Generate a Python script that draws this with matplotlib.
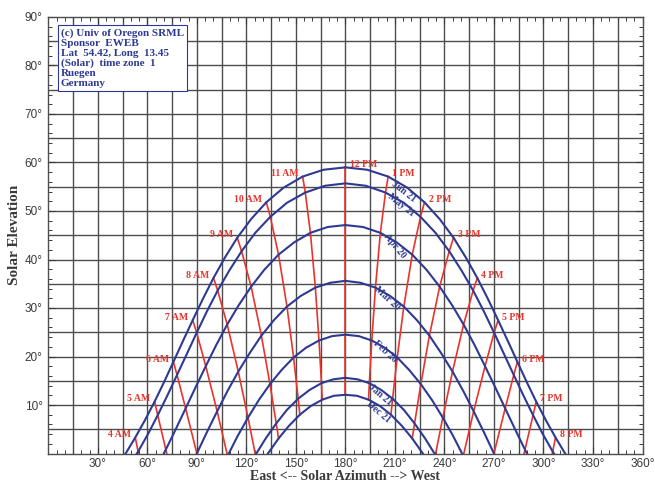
import numpy as np
import matplotlib
matplotlib.use("Agg")
import matplotlib.pyplot as plt
from matplotlib.ticker import MultipleLocator

nan = np.nan

# solar time of each tabulated point, every half hour from 3:00 to 21:00
solar_hour = list(np.arange(3, 21.5, 0.5))

dates = ["Jun 21", "May 21", "Apr 20", "Mar 20", "Feb 20", "Jan 21", "Dec 21"]

# azimuth / elevation for each date
az_jun = [40.5, 46.7, 52.7, 58.6, 64.4, 70.1, 75.8, 81.6, 87.5, 93.7, 100.1, 107.0, 114.5,
          122.8, 132.1, 142.5, 154.1, 166.7, 180.0, 193.3, 205.9, 217.5, 227.9, 237.2,
          245.5, 253.0, 259.9, 266.3, 272.5, 278.4, 284.2, 289.9, 295.6, 301.4, 307.3,
          313.3, 319.5]
el_jun = [-3.1, -0.1, 3.3, 6.9, 10.7, 14.7, 18.9, 23.2, 27.5, 31.9, 36.2, 40.4, 44.5,
          48.3, 51.8, 54.8, 57.1, 58.5, 59.0, 58.5, 57.1, 54.8, 51.8, 48.3, 44.5, 40.4,
          36.2, 31.9, 27.5, 23.2, 18.9, 14.7, 10.7, 6.9, 3.3, -0.1, -3.1]

az_may = [41.9, 48.2, 54.4, 60.4, 66.3, 72.2, 78.0, 83.9, 89.9, 96.1, 102.6, 109.6, 117.1,
          125.4, 134.5, 144.6, 155.7, 167.6, 180.0, 192.4, 204.3, 215.4, 225.5, 234.6,
          242.9, 250.4, 257.4, 263.9, 270.1, 276.1, 282.0, 287.8, 293.7, 299.6, 305.6,
          311.8, 318.1]
el_may = [-6.1, -3.0, 0.4, 4.0, 7.9, 12.0, 16.2, 20.5, 24.9, 29.3, 33.6, 37.7, 41.7,
          45.5, 48.8, 51.7, 53.8, 55.2, 55.7, 55.2, 53.8, 51.7, 48.8, 45.5, 41.7, 37.7,
          33.6, 29.3, 24.9, 20.5, 16.2, 12.0, 7.9, 4.0, 0.4, -3.0, -6.1]

az_apr = [nan, nan, 58.8, 65.1, 71.2, 77.2, 83.2, 89.3, 95.4, 101.8, 108.4, 115.4, 122.9,
          130.9, 139.5, 148.8, 158.8, 169.3, 180.0, 190.7, 201.2, 211.2, 220.5, 229.1,
          237.1, 244.6, 251.6, 258.2, 264.6, 270.7, 276.8, 282.8, 288.8, 294.9, 301.2,
          nan, nan]
el_apr = [nan, nan, -7.1, -3.2, 0.8, 5.0, 9.3, 13.7, 18.0, 22.4, 26.6, 30.6, 34.4,
          37.9, 41.0, 43.5, 45.5, 46.7, 47.1, 46.7, 45.5, 43.5, 41.0, 37.9, 34.4, 30.6,
          26.6, 22.4, 18.0, 13.7, 9.3, 5.0, 0.8, -3.2, -7.1, nan, nan]

az_mar = [nan, nan, nan, nan, 77.7, 83.9, 90.0, 96.1, 102.3, 108.6, 115.1, 122.0, 129.1,
          136.7, 144.6, 153.0, 161.8, 170.8, 180.0, 189.2, 198.2, 207.0, 215.4, 223.3,
          230.9, 238.0, 244.9, 251.4, 257.7, 263.9, 270.0, 276.1, 282.3, nan, nan, nan, nan]
el_mar = [nan, nan, nan, nan, -8.7, -4.4, 0.0, 4.4, 8.7, 12.9, 16.9, 20.7, 24.3,
          27.5, 30.3, 32.5, 34.2, 35.2, 35.6, 35.2, 34.2, 32.5, 30.3, 27.5, 24.3, 20.7,
          16.9, 12.9, 8.7, 4.4, 0.0, -4.4, -8.7, nan, nan, nan, nan]

az_feb = [nan, nan, nan, nan, nan, nan, 96.5, 102.5, 108.6, 114.7, 121.0, 127.5, 134.3,
          141.3, 148.6, 156.1, 164.0, 171.9, 180.0, 188.1, 196.0, 203.9, 211.4, 218.7,
          225.7, 232.5, 239.0, 245.3, 251.4, 257.5, 263.5, nan, nan, nan, nan, nan, nan]
el_feb = [nan, nan, nan, nan, nan, nan, -9.0, -4.7, -0.5, 3.6, 7.4, 11.0, 14.3,
          17.2, 19.8, 21.8, 23.3, 24.2, 24.5, 24.2, 23.3, 21.8, 19.8, 17.2, 14.3, 11.0,
          7.4, 3.6, -0.5, -4.7, -9.0, nan, nan, nan, nan, nan, nan]

az_jan = [nan, nan, nan, nan, nan, nan, nan, nan, 113.6, 119.5, 125.5, 131.7, 138.1,
          144.6, 151.4, 158.3, 165.5, 172.7, 180.0, 187.3, 194.5, 201.7, 208.6, 215.4,
          221.9, 228.3, 234.5, 240.5, 246.4, nan, nan, nan, nan, nan, nan, nan, nan]
el_jan = [nan, nan, nan, nan, nan, nan, nan, nan, -7.9, -4.0, -0.3, 3.1, 6.2,
          9.0, 11.3, 13.1, 14.5, 15.3, 15.6, 15.3, 14.5, 13.1, 11.3, 9.0, 6.2, 3.1,
          -0.3, -4.0, -7.9, nan, nan, nan, nan, nan, nan, nan, nan]

az_dec = [nan, nan, nan, nan, nan, nan, nan, nan, 115.6, 121.4, 127.3, 133.3, 139.5,
          145.8, 152.4, 159.1, 166.0, 173.0, 180.0, 187.0, 194.0, 200.9, 207.6, 214.2,
          220.5, 226.7, 232.7, 238.6, 244.4, nan, nan, nan, nan, nan, nan, nan, nan]
el_dec = [nan, nan, nan, nan, nan, nan, nan, nan, -10.7, -6.9, -3.3, 0.1, 3.1,
          5.7, 8.0, 9.8, 11.1, 11.9, 12.1, 11.9, 11.1, 9.8, 8.0, 5.7, 3.1, 0.1,
          -3.3, -6.9, -10.7, nan, nan, nan, nan, nan, nan, nan, nan]

hour_names = ["4 AM", "5 AM", "6 AM", "7 AM", "8 AM", "9 AM", "10 AM", "11 AM", "12 PM",
              "1 PM", "2 PM", "3 PM", "4 PM", "5 PM", "6 PM", "7 PM", "8 PM"]
hour_values = [4, 5, 6, 7, 8, 9, 10, 11, 12, 13, 14, 15, 16, 17, 18, 19, 20]

# date label positions (azimuth, elevation, rotation)
date_lab_az = [215.5, 214.0, 210.0, 205.5, 204.0, 201.0, 200.0]
date_lab_el = [54.0, 51.3, 42.7, 32.0, 21.0, 12.1, 8.6]
date_lab_rot = [-38, -38, -50, -42, -42, -40, -40]

info_lines = ["(c) Univ of Oregon SRML", "Sponsor  EWEB", "Lat  54.42, Long  13.45",
              "(Solar)  time zone  1", "Ruegen", "Germany"]

BLUE = "#2e3a92"
RED = "#e8342c"
GRID = "#4d4d4d"
TXT = "#3a3a3a"

all_az = [az_jun, az_may, az_apr, az_mar, az_feb, az_jan, az_dec]
all_el = [el_jun, el_may, el_apr, el_mar, el_feb, el_jan, el_dec]

fig = plt.figure(figsize=(6.55, 4.82), dpi=100)
ax = fig.add_axes([48.3 / 655, 1 - 453.5 / 482, (642.5 - 48.3) / 655, (453.5 - 17) / 482])

ax.set_xlim(0, 360)
ax.set_ylim(0, 90)

# grid
for x in np.arange(15, 360, 15):
    ax.axvline(x, color=GRID, lw=1.0, zorder=1)
for y in np.arange(5, 90, 5):
    ax.axhline(y, color=GRID, lw=1.0, zorder=1)

# hour lines
for h in hour_values:
    i = solar_hour.index(h)
    xs = [a[i] for a in all_az if not np.isnan(a[i])]
    ys = [e[i] for e in all_el if not np.isnan(e[i])]
    ax.plot(xs, ys, color=RED, lw=1.2, zorder=2)

# date curves
for a, e in zip(all_az, all_el):
    ax.plot(a, e, color=BLUE, lw=1.5, zorder=3)

# hour labels next to the June 21 points
for name, h in zip(hour_names, hour_values):
    i = solar_hour.index(h)
    if h < 12:
        ax.annotate(name, (az_jun[i], el_jun[i]), xytext=(-3, 2), textcoords="offset points",
                    ha="right", va="center", color=RED, fontsize=7, fontweight="bold",
                    family="Liberation Serif", zorder=5)
    else:
        ax.annotate(name, (az_jun[i], el_jun[i]), xytext=(3, 2), textcoords="offset points",
                    ha="left", va="center", color=RED, fontsize=7, fontweight="bold",
                    family="Liberation Serif", zorder=5)

for name, x, y, r in zip(dates, date_lab_az, date_lab_el, date_lab_rot):
    ax.text(x, y, name, rotation=r, ha="center", va="center", color=BLUE, fontsize=7,
            fontweight="bold", family="Liberation Serif", zorder=5,
            rotation_mode="anchor")

ax.text(0.021, 0.975, "\n".join(info_lines), transform=ax.transAxes, ha="left", va="top",
        color=BLUE, fontsize=8, fontweight="bold", family="Liberation Serif",
        linespacing=1.15, zorder=6,
        bbox=dict(boxstyle="square,pad=0.25", facecolor="white", edgecolor=BLUE, lw=0.8))

# ticks
ax.xaxis.set_major_locator(MultipleLocator(30))
ax.xaxis.set_minor_locator(MultipleLocator(5))
ax.yaxis.set_major_locator(MultipleLocator(10))
ax.yaxis.set_minor_locator(MultipleLocator(2))
ax.tick_params(which="both", direction="in", top=True, right=True, colors=TXT)
ax.tick_params(which="major", length=5, width=0.8)
ax.tick_params(which="minor", length=3, width=0.7)
xt = np.arange(30, 361, 30)
ax.set_xticks(xt)
ax.set_xticklabels(["%d\u00b0" % v for v in xt], family="Liberation Sans", fontsize=8.5,
                   color=TXT)
yt = np.arange(10, 91, 10)
ax.set_yticks(yt)
ax.set_yticklabels(["%d\u00b0" % v for v in yt], family="Liberation Sans", fontsize=8.5,
                   color=TXT)
ax.tick_params(axis="x", pad=3)
ax.tick_params(axis="y", pad=4)

for s in ax.spines.values():
    s.set_color(GRID)
    s.set_linewidth(1.0)

ax.set_xlabel("East <-- Solar Azimuth --> West", family="Liberation Serif", fontweight="bold",
              fontsize=10, color=TXT, labelpad=0)
ax.set_ylabel("Solar Elevation", family="Liberation Serif", fontweight="bold",
              fontsize=11, color=TXT, labelpad=3)

fig.savefig("out.png", dpi=100)
